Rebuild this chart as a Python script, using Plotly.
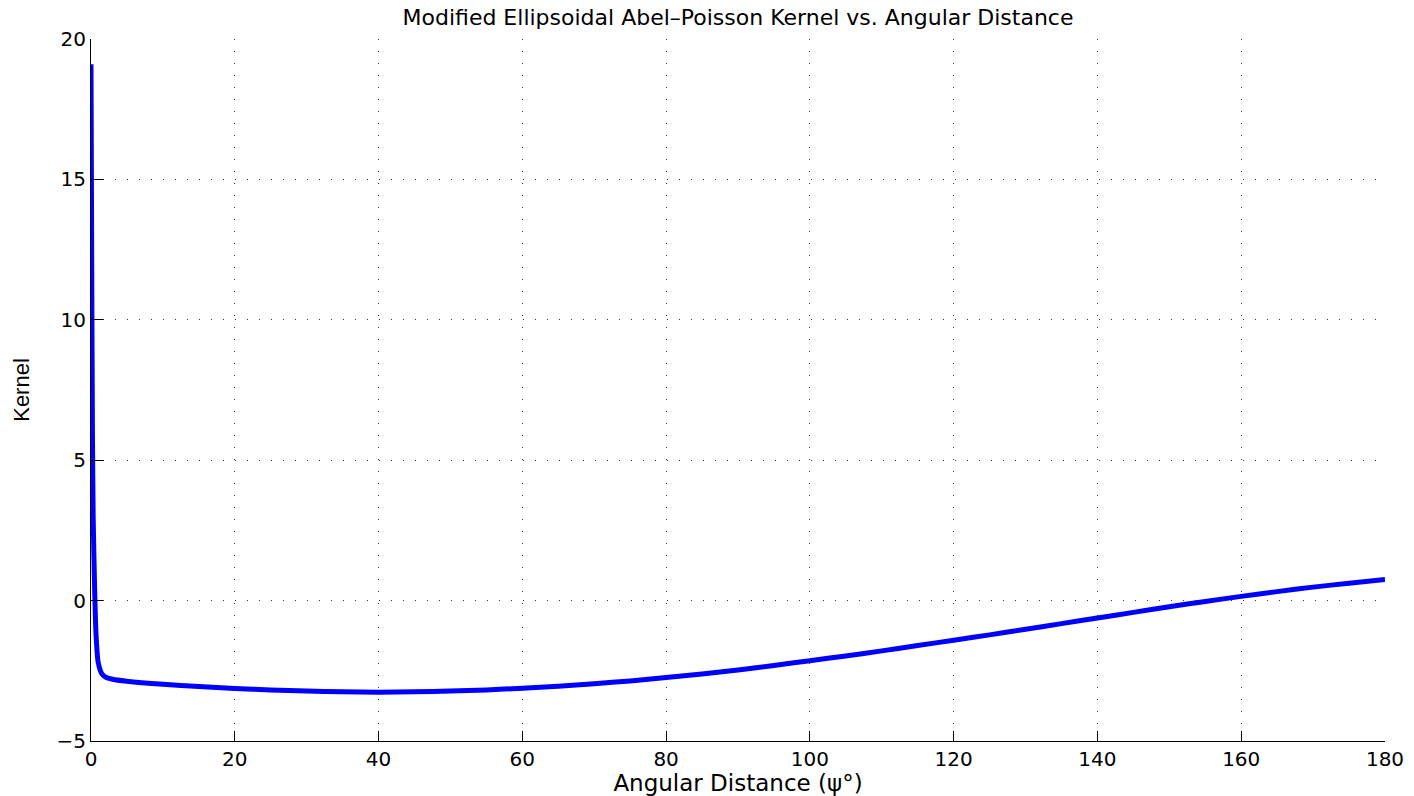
import plotly.graph_objects as go

# Data (angular distance in degrees, kernel value)
psi_deg = [0, 0.1, 0.2, 0.3, 0.5, 0.7, 1.0, 1.5, 2, 3, 5, 10, 15, 20, 25, 30, 35,
           40, 45, 50, 55, 60, 65, 70, 75, 80, 85, 90, 95, 100, 105, 110, 115,
           120, 125, 130, 135, 140, 145, 150, 155, 160, 165, 170, 175, 180]
kernel = [19.1, 12.0, 6.0, 3.0, 0.5, -1.2, -2.2, -2.6, -2.72, -2.8, -2.87, -2.98,
          -3.06, -3.13, -3.18, -3.22, -3.25, -3.26, -3.25, -3.22, -3.18, -3.12,
          -3.05, -2.96, -2.86, -2.74, -2.61, -2.47, -2.31, -2.14, -1.97, -1.79,
          -1.60, -1.41, -1.22, -1.02, -0.82, -0.62, -0.42, -0.22, -0.03, 0.15,
          0.32, 0.48, 0.62, 0.75]

x_ticks = [0, 20, 40, 60, 80, 100, 120, 140, 160, 180]
y_ticks = [-5, 0, 5, 10, 15, 20]

title_text = "Modified Ellipsoidal Abel\u2013Poisson Kernel vs. Angular Distance"
x_label = "Angular Distance (\u03c8\u00b0)"
y_label = "Kernel"

FONT = "DejaVu Sans"

fig = go.Figure()
fig.add_trace(go.Scatter(
    x=psi_deg, y=kernel, mode="lines",
    line=dict(color="#0000ff", width=5, shape="spline", smoothing=0.6),
    showlegend=False,
))

axis_common = dict(
    showgrid=True, gridcolor="#333333", gridwidth=1, griddash="1px,11px",
    zeroline=False, showline=True, linecolor="black", linewidth=1,
    ticks="inside", tickcolor="black", tickwidth=1,
    tickfont=dict(family=FONT, size=20, color="black"),
    mirror=False, automargin=False,
)

fig.update_layout(
    width=1414, height=796,
    paper_bgcolor="white", plot_bgcolor="white",
    margin=dict(l=91, r=29, t=39, b=55),
    title=dict(text=title_text, x=(91 + 1385) / 2 / 1414, xanchor="center",
               y=1 - 17 / 796, yanchor="middle",
               font=dict(family=FONT, size=22, color="black")),
    xaxis=dict(range=[0, 180], tickvals=x_ticks, ticklen=10,
               title=dict(text=x_label, standoff=1,
                          font=dict(family=FONT, size=23, color="black")),
               **axis_common),
    yaxis=dict(range=[-5, 20], tickvals=y_ticks, ticklen=12,
               title=dict(text=y_label, standoff=20,
                          font=dict(family="Liberation Sans", size=22, color="black")),
               **axis_common),
)

fig.write_html("out.html")
